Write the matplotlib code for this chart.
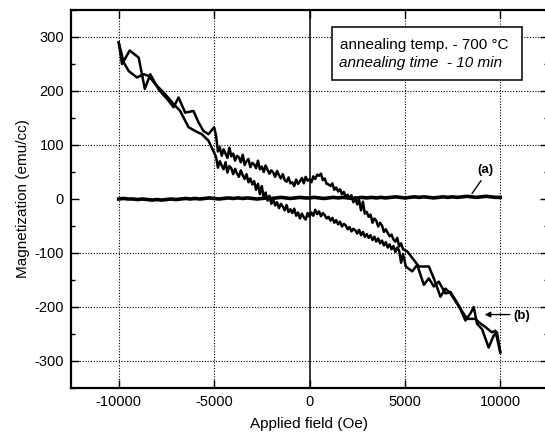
import numpy as np
import matplotlib
matplotlib.use("Agg")
import matplotlib.pyplot as plt
from matplotlib.patches import Rectangle

plt.rcParams['font.family'] = ['Liberation Sans', 'DejaVu Sans']

# ---- data ----
# curve (a): nearly flat, near zero
a_field = list(range(-10000, 10001, 250))
a_mag = [0, 1, 0, 0, -1, 0, -1, -2, -1, -2, -1, 0, -1, 0, 1, 0, 1, 0, 1, 2,
         1, 0, 1, 2, 1, 2, 1, 2, 1, 0, 1, 2, 1, 2, 3, 2, 1, 2, 3, 2,
         2, 3, 2, 1, 2, 3, 2, 3, 2, 1, 2, 3, 2, 3, 2, 3, 2, 3, 4, 3,
         2, 3, 4, 3, 4, 3, 2, 3, 4, 3, 4, 3, 4, 5, 4, 3, 4, 5, 4, 3, 3]

# curve (b): upper branch
up_left_field = [-10000, -9826, -9425, -8955, -8630, -8345, -7910, -7387, -7125,
                 -6864, -6516, -6080, -5819, -5557, -5296, -5000]
up_left_mag = [290, 250, 275, 262, 204, 231, 203, 182, 170,
               188, 160, 163, 142, 126, 120, 133]
mid_field = list(range(-4900, 5000, 100))
up_mid_mag = [118, 88, 96, 80, 92, 84, 76, 95, 79, 84,
              71, 80, 77, 68, 82, 63, 70, 74, 59, 67,
              64, 57, 71, 55, 60, 50, 62, 54, 47, 53,
              49, 41, 52, 44, 38, 46, 35, 32, 40, 29,
              31, 24, 36, 28, 33, 39, 29, 41, 34, 36,
              31, 42, 37, 45, 43, 47, 35, 38, 28, 27,
              24, 29, 17, 21, 14, 18, 9, 13, 4, 8,
              1, 7, -6, 3, -10, -2, -21, -5, -27, -24,
              -33, -29, -44, -36, -40, -51, -44, -49, -61, -56,
              -63, -69, -66, -75, -79, -72, -88, -82, -93]
up_right_field = [5122, 5732, 6254, 6516, 6864, 7125, 7387, 7909, 8258,
                  8693, 8868, 9216, 9564, 9739, 10000]
up_right_mag = [-97, -125, -125, -147, -181, -166, -175, -203, -222,
                -222, -228, -237, -247, -244, -284]

# curve (b): lower branch
lo_left_field = [-10000, -9739, -9477, -9042, -8693, -8432, -8084, -7561, -7125,
                 -6777, -6341, -5993, -5645, -5296, -5000]
lo_left_mag = [290, 253, 237, 225, 231, 228, 213, 194, 176,
               163, 133, 126, 120, 108, 86]
lo_mid_mag = [78, 58, 70, 62, 55, 68, 49, 61, 57, 46,
              56, 47, 41, 53, 44, 37, 46, 31, 38, 27,
              33, 17, 28, 9, 24, 2, 12, -3, 6, -9,
              0, -12, -6, -17, -9, -14, -21, -11, -24, -19,
              -26, -18, -31, -25, -36, -27, -34, -38, -26, -33,
              -25, -31, -20, -28, -23, -32, -26, -30, -36, -33,
              -40, -35, -44, -39, -47, -42, -51, -46, -49, -56,
              -52, -60, -55, -58, -64, -57, -67, -61, -70, -65,
              -72, -67, -76, -70, -79, -73, -82, -77, -86, -80,
              -90, -84, -93, -87, -98, -90, -96, -118, -102]
lo_right_field = [5050, 5383, 5645, 5993, 6254, 6516, 6777, 7125, 7387, 7822,
                  8171, 8432, 8606, 8780, 9042, 9390, 9652, 9826, 10000]
lo_right_mag = [-125, -134, -122, -159, -147, -162, -153, -175, -172, -197,
                -225, -212, -200, -231, -241, -275, -253, -247, -284]

x_ticks = [-10000, -5000, 0, 5000, 10000]
y_ticks = [-300, -200, -100, 0, 100, 200, 300]

# ---- figure ----
fig = plt.figure(figsize=(5.45, 4.38), dpi=100)
ax = fig.add_axes([71 / 545, 50 / 438, 477 / 545, 378 / 438])

ax.set_xlim(-12500, 12500)
ax.set_ylim(-350, 350)

for v in [-10000, -5000, 5000, 10000]:
    ax.axvline(v, color='black', ls=(0, (1, 1.5)), lw=0.8, zorder=1)
for v in [-300, -200, -100, 100, 200, 300]:
    ax.axhline(v, color='black', ls=(0, (1, 1.5)), lw=0.8, zorder=1)
ax.axvline(0, color='black', lw=1.1, zorder=1)

up_f = up_left_field + mid_field + up_right_field
up_m = up_left_mag + up_mid_mag + up_right_mag
lo_f = lo_left_field + mid_field + lo_right_field
lo_m = lo_left_mag + lo_mid_mag + lo_right_mag

ax.plot(up_f, up_m, color='black', lw=1.8, zorder=3)
ax.plot(lo_f, lo_m, color='black', lw=1.8, zorder=3)
ax.plot(a_field, a_mag, color='black', lw=2.6, zorder=3)

ax.set_xticks(x_ticks)
ax.set_xticklabels([str(t) for t in x_ticks])
ax.set_yticks(y_ticks)
ax.set_yticklabels([str(t) for t in y_ticks])
ax.set_yticks(np.arange(-350, 351, 50), minor=True)
ax.tick_params(which='both', direction='in', top=True, right=True,
               labelsize=10.5, width=1.0, pad=5)
ax.tick_params(which='major', length=6)
ax.tick_params(which='minor', length=3)
for s in ax.spines.values():
    s.set_linewidth(1.6)

ax.set_xlabel('Applied field (Oe)', fontsize=11, labelpad=6)
ax.set_ylabel('Magnetization (emu/cc)', fontsize=11, labelpad=3)

# annotation box
ax.add_patch(Rectangle((1188, 220), 11136 - 1188, 319 - 220, facecolor='white',
                       edgecolor='black', lw=1.1, zorder=5))
ax.text(1623, 285, 'annealing temp. - 700 °C', fontsize=11, va='center',
        ha='left', zorder=6)
ax.text(1560, 252, 'annealing time  - 10 min', fontsize=11, va='center',
        ha='left', style='italic', zorder=6)

# labels (a), (b)
ax.annotate('', xy=(8517, 10), xytext=(8990, 34),
            arrowprops=dict(arrowstyle='-', color='black', lw=1.0,
                            shrinkA=0, shrinkB=0), zorder=6)
ax.text(9215, 54, '(a)', fontsize=9.5, fontweight='bold', ha='center',
        va='center', zorder=6)
ax.annotate('', xy=(9181, -214), xytext=(10500, -214),
            arrowprops=dict(arrowstyle='-|>', color='black', lw=1.0,
                            mutation_scale=8, shrinkA=0, shrinkB=0), zorder=6)
ax.text(11132, -216, '(b)', fontsize=9.5, fontweight='bold', ha='center',
        va='center', zorder=6)

fig.savefig('out.png', dpi=100)
